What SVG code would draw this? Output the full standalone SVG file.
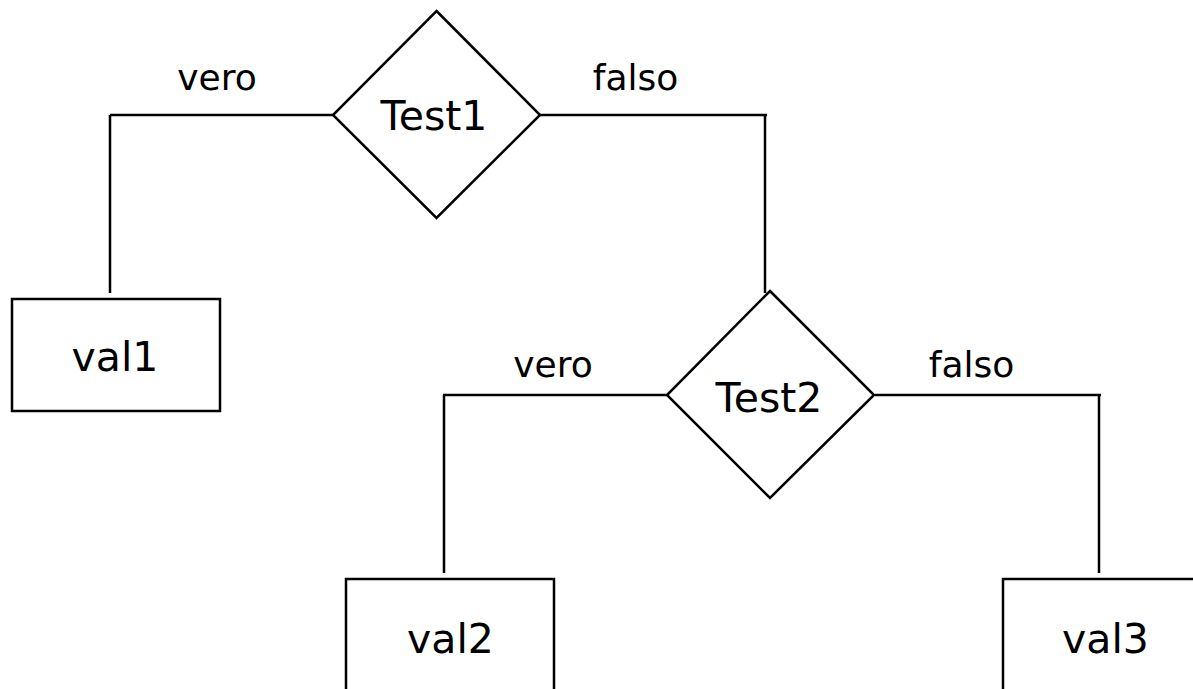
<svg xmlns="http://www.w3.org/2000/svg" width="1193" height="689" viewBox="0 0 1193 689">
<style>
.shape{fill:#fff;stroke:#000;stroke-width:2.5}
.conn{fill:none;stroke:#000;stroke-width:2.5}
.t{font-family:"DejaVu Sans",Verdana,sans-serif;font-size:41px;fill:#000;text-anchor:middle}
.lbl{font-family:"DejaVu Sans",Verdana,sans-serif;font-size:36px;fill:#000;text-anchor:middle}
</style>
<rect width="1193" height="689" fill="#fff"/>
<g id="connectors">
<path class="conn" d="M333,115 H110 M110,115 V293"/>
<path class="conn" d="M540,115 H767 M765,116 V293"/>
<path class="conn" d="M667,395 H443 M444,395 V573"/>
<path class="conn" d="M875,395 H1101 M1099,396 V573"/>
<text class="lbl" x="217" y="90">vero</text>
<text class="lbl" x="635.5" y="90">falso</text>
<text class="lbl" x="553" y="377">vero</text>
<text class="lbl" x="971.5" y="377">falso</text>
</g>
<g id="test1">
<polygon class="shape" points="436.5,11 540,115 436.5,218 333,115"/>
<text class="t" x="434" y="130">Test1</text>
</g>
<g id="test2">
<polygon class="shape" points="770,291 874,395 770,498 667,395"/>
<text class="t" x="769" y="412">Test2</text>
</g>
<g id="val1">
<rect class="shape" x="12" y="299" width="208" height="112"/>
<text class="t" x="115" y="371">val1</text>
</g>
<g id="val2">
<rect class="shape" x="346" y="579" width="208" height="130"/>
<text class="t" x="450.5" y="653">val2</text>
</g>
<g id="val3">
<rect class="shape" x="1003" y="579" width="208" height="130"/>
<text class="t" x="1105.5" y="653">val3</text>
</g>
</svg>
